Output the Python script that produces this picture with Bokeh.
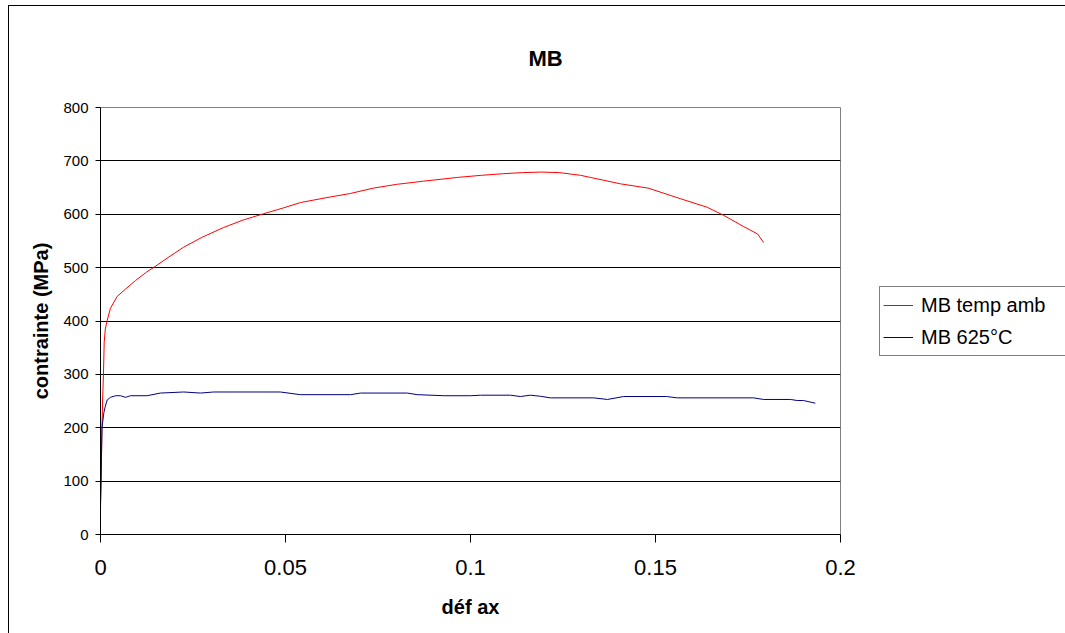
from bokeh.plotting import figure
from bokeh.models import Legend, LegendItem, FixedTicker, Range1d
from bokeh.embed import file_html
from bokeh.resources import INLINE

# ---- data ----
red_x = [0.0, 0.0002, 0.0004, 0.0006, 0.0008, 0.001, 0.0013, 0.0018, 0.0027, 0.0045,
         0.0068, 0.0095, 0.0125, 0.0143, 0.0185, 0.0224, 0.0275, 0.0332, 0.0385, 0.0441,
         0.0495, 0.0541, 0.061, 0.0676, 0.0738, 0.08, 0.0873, 0.0965, 0.103, 0.109,
         0.114, 0.119, 0.124, 0.1297, 0.1324, 0.1405, 0.148, 0.1568, 0.164, 0.1684,
         0.1738, 0.1776, 0.1792]
red_y = [60, 120, 200, 260, 300, 360, 385, 401, 424, 446,
         460, 476, 492, 500, 520, 538, 557, 575, 589, 601,
         612, 622, 631, 639, 649, 656, 662, 669, 673, 676,
         678, 679, 678, 673, 669, 657, 649, 629, 613, 598,
         577, 563, 547]

blue_x = [0.0, 0.0002, 0.0004, 0.0009, 0.0013, 0.0018, 0.0027, 0.0041, 0.0054, 0.0068,
          0.0081, 0.0126, 0.0162, 0.0225, 0.027, 0.0306, 0.0486, 0.054, 0.0676, 0.0703,
          0.0829, 0.0856, 0.0928, 0.1, 0.1027, 0.1108, 0.1135, 0.1162, 0.1189, 0.1216,
          0.1333, 0.137, 0.1414, 0.153, 0.1559, 0.1765, 0.1792, 0.1865, 0.1883, 0.19,
          0.1932]
blue_y = [50, 120, 200, 228, 240, 252, 257, 260, 260, 257,
          260, 260, 265, 267, 265, 267, 267, 262, 262, 265,
          265, 262, 260, 260, 261, 261, 258.5, 261, 259, 256,
          256, 253, 258.5, 258.5, 256, 256, 253, 253, 251, 251,
          246]

x_ticks = [0, 0.05, 0.1, 0.15, 0.2]
x_tick_labels = ["0", "0.05", "0.1", "0.15", "0.2"]
y_ticks = [0, 100, 200, 300, 400, 500, 600, 700, 800]
series_names = ["MB temp amb", "MB 625°C"]
series_colors = ["#FF0000", "#000080"]
title_text = "MB"
x_label = "déf ax"
y_label = "contrainte (MPa)"

FONT = "Liberation Sans"

p = figure(frame_width=740, frame_height=427, output_backend="svg", toolbar_location=None,
           x_range=Range1d(0, 0.2), y_range=Range1d(0, 800),
           min_border_left=91, min_border_right=225, min_border_top=96, min_border_bottom=99,
           styles={"border-left": "1px solid black", "border-top": "1px solid black",
                   "margin-top": "5px", "margin-left": "8px"})
p.background_fill_color = "white"
p.border_fill_color = "white"
p.outline_line_color = "#808080"
p.outline_line_width = 1

r1 = p.line(red_x, red_y, line_color=series_colors[0], line_width=1)
r2 = p.line(blue_x, blue_y, line_color=series_colors[1], line_width=1)

# title
p.title.text = title_text
p.title.align = "left"
p.title.offset = 428
p.title.standoff = 74
p.title.text_font = FONT
p.title.text_font_size = "22px"
p.title.text_font_style = "bold"
p.title.text_color = "black"

# axes
p.xaxis.ticker = FixedTicker(ticks=x_ticks)
p.xaxis.major_label_overrides = {t: l for t, l in zip(x_ticks, x_tick_labels)}
p.yaxis.ticker = FixedTicker(ticks=y_ticks)
p.xaxis.minor_tick_line_color = None
p.yaxis.minor_tick_line_color = None
p.xaxis.major_tick_in = 0
p.xaxis.major_tick_out = 8
p.yaxis.major_tick_in = 0
p.yaxis.major_tick_out = 5
p.xaxis.axis_line_color = "black"
p.yaxis.axis_line_color = "black"
p.xaxis.major_tick_line_color = "black"
p.yaxis.major_tick_line_color = "black"
p.xaxis.major_label_text_font = FONT
p.yaxis.major_label_text_font = FONT
p.xaxis.major_label_text_font_size = "22px"
p.yaxis.major_label_text_font_size = "15px"
p.xaxis.major_label_text_color = "black"
p.yaxis.major_label_text_color = "black"
p.xaxis.major_label_standoff = 17
p.yaxis.major_label_standoff = 7

p.xaxis.axis_label = x_label
p.yaxis.axis_label = y_label
p.xaxis.axis_label_text_font = FONT
p.yaxis.axis_label_text_font = FONT
p.xaxis.axis_label_text_font_size = "20px"
p.yaxis.axis_label_text_font_size = "20px"
p.xaxis.axis_label_text_font_style = "bold"
p.yaxis.axis_label_text_font_style = "bold"
p.xaxis.axis_label_text_color = "black"
p.yaxis.axis_label_text_color = "black"
p.xaxis.axis_label_standoff = 18
p.yaxis.axis_label_standoff = 8

p.xgrid.grid_line_color = None
p.ygrid.grid_line_color = "black"
p.ygrid.grid_line_width = 1

legend = Legend(items=[LegendItem(label=series_names[0], renderers=[r1]),
                       LegendItem(label=series_names[1], renderers=[r2])],
                location=(39, 178), orientation="vertical",
                border_line_color="black", border_line_width=1,
                background_fill_color="white", background_fill_alpha=1,
                padding=3, spacing=2, margin=0,
                label_text_font=FONT, label_text_font_size="20px",
                label_text_color="black", label_width=150,
                glyph_width=30, glyph_height=30, label_height=30, label_standoff=8)
p.add_layout(legend, "right")

open("out.html", "w").write(file_html(p, INLINE))
